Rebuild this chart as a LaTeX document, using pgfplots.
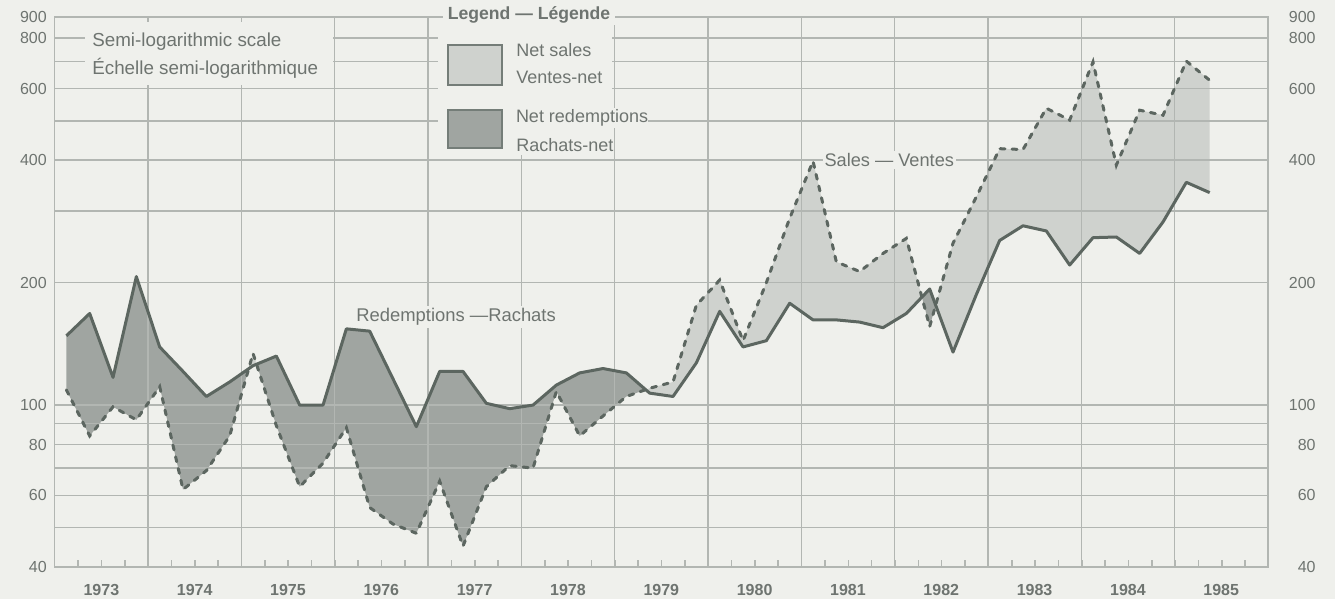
\documentclass[border=0pt]{standalone}
\usepackage{pgfplots}
\pgfplotsset{compat=1.18}
\usepgfplotslibrary{fillbetween}
\usepackage{pgfplotstable}
\usepackage{fontspec}
\setmainfont{Liberation Sans}
\definecolor{bgcol}{RGB}{239,240,236}
\definecolor{gridcol}{RGB}{178,182,178}
\definecolor{linecol}{RGB}{92,102,96}
\definecolor{darkfill}{RGB}{160,165,161}
\definecolor{lightfill}{RGB}{207,210,206}
\definecolor{txtcol}{RGB}{110,116,112}
\pagecolor{bgcol}

\pgfplotstableread{
x R S
1973.125 148 109
1973.375 168 84
1973.625 117 99
1973.875 207 92
1974.125 139 111
1974.375 121 62
1974.625 105 69
1974.875 114 84
1975.125 125 134
1975.375 132 89
1975.625 100 63
1975.875 100 72
1976.125 154 88
1976.375 152 56
1976.625 116 51
1976.875 88.5 48.4
1977.125 121 65
1977.375 121 45
1977.625 101 63
1977.875 98 71
1978.125 100 70
1978.375 112 108
1978.625 120 84
1978.875 123 94
1979.125 120 105
1979.375 107 110
1979.625 105 114
1979.875 127 176
1980.125 170 203
1980.375 139 144
1980.625 144 200
1980.875 178 288
1981.125 162 398
1981.375 162 225
1981.625 160 213
1981.875 155 236
1982.125 168 257
1982.375 193 156
1982.625 135 250
1982.875 187 325
1983.125 254 427
1983.375 276 425
1983.625 268 537
1983.875 221 502
1984.125 258 698
1984.375 259 389
1984.625 236 531
1984.875 282 516
1985.125 353 701
1985.375 333 629
}\funds

\begin{document}
\begin{tikzpicture}
\begin{axis}[
  name=main,
  set layers,
  clip=false,
  width=606.7pt, height=275pt, scale only axis,
  xmin=1973, xmax=1986,
  ymode=log, ymin=40, ymax=900,
  no marks,
  axis line style={draw=gridcol, line width=0.8pt},
  grid style={draw=gridcol, line width=0.75pt},
  tick align=inside,
  xtick pos=left, ytick pos=left,
  xtick={1973.5,1974.5,...,1985.5},
  xticklabels={1973,1974,1975,1976,1977,1978,1979,1980,1981,1982,1983,1984,1985},
  major tick length=0pt,
  minor tick length=3.5pt,
  minor xtick={1973.25,1973.5,...,1985.75},
  xtick style={draw=gridcol, line width=0.8pt},
  extra x ticks={1974,1975,...,1985},
  extra x tick labels={},
  extra x tick style={grid=major, major tick length=0pt},
  ytick={40,60,80,100,200,400,600,800,900},
  yticklabels={40,60,80,100,200,400,600,800,900},
  ytick style={draw=none},
  ymajorgrids,
  extra y ticks={50,70,90,300,500,700},
  extra y tick labels={},
  extra y tick style={grid=major},
  /pgf/number format/assume math mode=true,
  xticklabel style={font=\bfseries\fontsize{8}{9}\selectfont, text=txtcol, inner sep=0pt, anchor=north, yshift=-8.5pt},
  yticklabel style={font=\fontsize{8}{9}\selectfont, text=txtcol, inner sep=0pt, anchor=east, xshift=-3.8pt},
]
\addplot[name path=R, draw=linecol, line width=1.5pt, line join=round] table[x=x,y=R]{\funds};
\addplot[name path=S, draw=linecol, line width=1.5pt, line cap=round, dash pattern=on 2.5pt off 3.5pt] table[x=x,y=S]{\funds};
\addplot[fill=lightfill] fill between[of=R and S, split, on layer=axis background,
   every even segment/.style={fill=darkfill},
   every odd segment/.style={fill=lightfill}];

% note box top-left
\fill[bgcol] (rel axis cs:0.025,0.8764) rectangle (rel axis cs:0.2294,0.9909);
\node[anchor=west, inner sep=0pt, text=txtcol, font=\fontsize{9.4}{10}\selectfont] at (rel axis cs:0.0307,0.9545) {Semi-logarithmic scale};
\node[anchor=west, inner sep=0pt, text=txtcol, font=\fontsize{9.4}{10}\selectfont] at (rel axis cs:0.0307,0.9073) {Échelle semi-logarithmique};

% legend
\fill[bgcol] (rel axis cs:0.3159,0.749) rectangle (rel axis cs:0.4593,0.998);
\node[anchor=west, fill=bgcol, inner xsep=2.5pt, inner ysep=1pt, text=txtcol, font=\bfseries\fontsize{8.8}{10}\selectfont] at (rel axis cs:0.3196,1.0036) {Legend — Légende};
\filldraw[fill=lightfill, draw=linecol!85, line width=1pt] (rel axis cs:0.3241,0.8764) rectangle (rel axis cs:0.3686,0.9491);
\filldraw[fill=darkfill, draw=linecol!85, line width=1pt] (rel axis cs:0.3241,0.7618) rectangle (rel axis cs:0.3686,0.8309);
\node[anchor=west, inner sep=0pt, text=txtcol, font=\fontsize{9}{10}\selectfont] at (rel axis cs:0.3802,0.94) {Net sales};
\node[anchor=west, inner sep=0pt, text=txtcol, font=\fontsize{9}{10}\selectfont] at (rel axis cs:0.3802,0.8909) {Ventes-net};
\node[anchor=west, fill=bgcol, inner xsep=0pt, inner ysep=1pt, outer xsep=0pt, text=txtcol, font=\fontsize{9}{10}\selectfont] at (rel axis cs:0.3802,0.8164) {Net redemptions\hspace{4pt}};
\node[anchor=west, inner sep=0pt, text=txtcol, font=\fontsize{9}{10}\selectfont] at (rel axis cs:0.3802,0.7673) {Rachats-net};

% series labels
\node[anchor=west, fill=bgcol, inner xsep=1pt, inner ysep=1pt, text=txtcol, font=\fontsize{9.1}{10}\selectfont] at (rel axis cs:0.6325,0.74) {Sales — Ventes};
\node[anchor=west, fill=bgcol, inner xsep=1pt, inner ysep=1pt, text=txtcol, font=\fontsize{9.2}{10}\selectfont] at (rel axis cs:0.2467,0.4545) {Redemptions —Rachats};
\end{axis}
\begin{axis}[
  width=606.7pt, height=275pt, scale only axis,
  xmin=1973, xmax=1986,
  ymode=log, ymin=40, ymax=900,
  axis line style={draw=none},
  xtick=\empty,
  ytick={40,60,80,100,200,400,600,800,900},
  yticklabels={40,60,80,100,200,400,600,800,900},
  ytick style={draw=none},
  yticklabel pos=right,
  /pgf/number format/assume math mode=true,
  yticklabel style={font=\fontsize{8}{9}\selectfont, text=txtcol, inner sep=0pt, anchor=east, xshift=24pt},
]
\addplot[draw=none, forget plot] table[x=x,y=R]{\funds};
\end{axis}
\pgfresetboundingbox
\path[use as bounding box] ([shift={(-27.35pt,-16pt)}]main.south west) rectangle ([shift={(33.5pt,8.5pt)}]main.north east);
\end{tikzpicture}
\end{document}
